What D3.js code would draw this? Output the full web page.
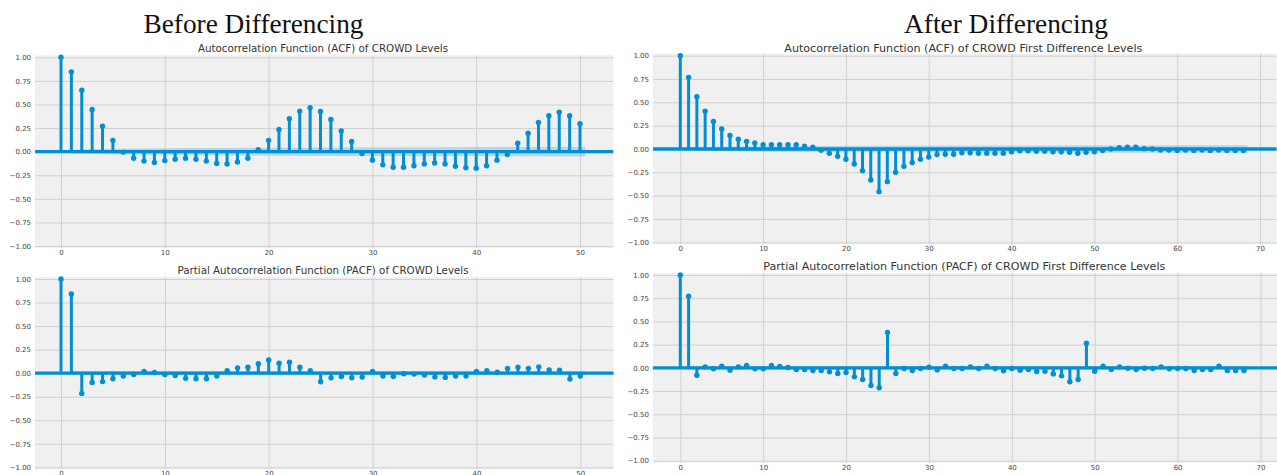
<!DOCTYPE html>
<html>
<head>
<meta charset="utf-8">
<script src="https://cdn.jsdelivr.net/npm/d3@7"></script>
<style>
  body { margin: 0; background: #fff; }
  svg { display: block; }
  text { font-family: "DejaVu Sans", sans-serif; }
</style>
</head>
<body>
<svg id="chart" width="1277" height="475"></svg>
<script>
// tick values
const yTicks = [-1, -0.75, -0.5, -0.25, 0, 0.25, 0.5, 0.75, 1];
const lagTicksLevels = [0, 10, 20, 30, 40, 50];
const lagTicksDiff = [0, 10, 20, 30, 40, 50, 60, 70];

// ACF / PACF of CROWD levels (lags 0..50)
const acfLevels = [1.0, 0.846, 0.65, 0.446, 0.27, 0.12, -0.005, -0.07, -0.10, -0.115,
  -0.095, -0.08, -0.07, -0.08, -0.10, -0.125, -0.13, -0.11, -0.07, 0.02,
  0.12, 0.235, 0.35, 0.43, 0.465, 0.425, 0.34, 0.22, 0.107, -0.02,
  -0.09, -0.14, -0.165, -0.165, -0.15, -0.13, -0.12, -0.13, -0.155, -0.17,
  -0.175, -0.15, -0.09, -0.03, 0.09, 0.196, 0.31, 0.38, 0.418, 0.38, 0.296];
const pacfLevels = [1.0, 0.84, -0.215, -0.10, -0.09, -0.06, -0.03, -0.015, 0.018, 0.007,
  -0.015, -0.025, -0.055, -0.06, -0.06, -0.03, 0.025, 0.056, 0.063, 0.10,
  0.14, 0.105, 0.116, 0.063, 0.025, -0.092, -0.05, -0.035, -0.05, -0.042,
  0.018, -0.03, -0.035, -0.007, -0.01, -0.02, -0.04, -0.045, -0.03, -0.03,
  0.018, 0.025, 0.01, 0.05, 0.063, 0.05, 0.067, 0.035, 0.032, -0.063, -0.03];

// ACF / PACF of CROWD first differences (lags 0..68)
const acfDiff = [1.0, 0.768, 0.56, 0.404, 0.296, 0.214, 0.146, 0.104, 0.082, 0.064,
  0.046, 0.046, 0.046, 0.046, 0.046, 0.029, 0.018, -0.014, -0.046, -0.079,
  -0.11, -0.16, -0.232, -0.332, -0.457, -0.35, -0.25, -0.186, -0.146, -0.11,
  -0.086, -0.06, -0.057, -0.057, -0.04, -0.04, -0.046, -0.046, -0.046, -0.046,
  -0.03, -0.02, -0.02, -0.025, -0.025, -0.03, -0.03, -0.035, -0.046, -0.036,
  -0.03, -0.015, 0.0, 0.014, 0.018, 0.018, 0.004, 0.0, -0.01, -0.012,
  -0.015, -0.012, -0.015, -0.012, -0.015, -0.012, -0.015, -0.015, -0.015];
const pacfDiff = [1.0, 0.772, -0.079, 0.011, -0.011, 0.018, -0.025, 0.011, 0.025, -0.011,
  -0.011, 0.025, 0.014, 0.004, -0.018, -0.018, -0.029, -0.029, -0.043, -0.061,
  -0.05, -0.097, -0.126, -0.19, -0.215, 0.38, -0.061, -0.007, -0.029, -0.007,
  0.007, -0.022, 0.018, -0.007, -0.007, 0.011, -0.007, 0.018, -0.007, -0.032,
  -0.007, -0.025, -0.018, -0.04, -0.036, -0.065, -0.086, -0.15, -0.126, 0.266,
  -0.036, 0.018, -0.018, 0.011, -0.004, -0.018, -0.004, -0.007, 0.011, -0.011,
  -0.007, -0.007, -0.029, -0.018, -0.018, 0.018, -0.029, -0.029, -0.029];

// confidence bands (half widths)
const bandLagsLevels = [0, 1, 5, 10, 25, 50.5];
const bandAcfLevels = [0, 0.02, 0.03, 0.035, 0.045, 0.052];
const bandPacfLevels = [0, 0.022, 0.022, 0.022, 0.022, 0.022];
const bandLagsDiff = [0, 1, 5, 10, 25, 68.5];
const bandAcfDiff = [0, 0.018, 0.025, 0.03, 0.035, 0.04];
const bandPacfDiff = [0, 0.02, 0.02, 0.02, 0.02, 0.02];

const blue = "#008fd5";
const svg = d3.select("#chart");

// headers
svg.append("text").attr("x", 143.5).attr("y", 32.5)
  .attr("textLength", 220).attr("lengthAdjust", "spacingAndGlyphs")
  .style("font-family", "'Liberation Serif', serif").style("font-size", "28px")
  .attr("fill", "#111").text("Before Differencing");
svg.append("text").attr("x", 904).attr("y", 33)
  .attr("textLength", 204).attr("lengthAdjust", "spacingAndGlyphs")
  .style("font-family", "'Liberation Serif', serif").style("font-size", "28px")
  .attr("fill", "#111").text("After Differencing");

const panels = [
  { title: "Autocorrelation Function (ACF) of CROWD Levels", titleX: 323, titleY: 52, titleLen: 250,
    values: acfLevels, maxLag: 50, xTicks: lagTicksLevels, x0: 61, x50: 580, xLo: -2.5, xHi: 53.2,
    yTop: 57.3, yBot: 246, bandLags: bandLagsLevels, band: bandAcfLevels },
  { title: "Partial Autocorrelation Function (PACF) of CROWD Levels", titleX: 323, titleY: 273.5, titleLen: 291,
    values: pacfLevels, maxLag: 50, xTicks: lagTicksLevels, x0: 61, x50: 580.3, xLo: -2.5, xHi: 53.2,
    yTop: 279, yBot: 467.3, bandLags: bandLagsLevels, band: bandPacfLevels },
  { title: "Autocorrelation Function (ACF) of CROWD First Difference Levels", titleX: 963.3, titleY: 51.5, titleLen: 358,
    values: acfDiff, maxLag: 70, xTicks: lagTicksDiff, x0: 680.3, x50: 1260, xLo: -3.3, xHi: 72,
    yTop: 55.7, yBot: 242.3, bandLags: bandLagsDiff, band: bandAcfDiff },
  { title: "Partial Autocorrelation Function (PACF) of CROWD First Difference Levels", titleX: 964.3, titleY: 270, titleLen: 402,
    values: pacfDiff, maxLag: 70, xTicks: lagTicksDiff, x0: 680.3, x50: 1260.5, xLo: -3.3, xHi: 72,
    yTop: 275, yBot: 460.7, bandLags: bandLagsDiff, band: bandPacfDiff }
];

panels.forEach(p => {
  const x = d3.scaleLinear().domain([0, p.maxLag]).range([p.x0, p.x50]);
  const y = d3.scaleLinear().domain([-1, 1]).range([p.yBot, p.yTop]);
  const left = x(p.xLo), right = Math.min(x(p.xHi), 1277);
  const top = y(1.022), bottom = y(-1.022);
  const g = svg.append("g");

  g.append("rect").attr("x", left).attr("y", top)
    .attr("width", right - left).attr("height", bottom - top).attr("fill", "#f0f0f0");

  // grid
  g.append("g").attr("transform", `translate(0,${bottom})`)
    .call(d3.axisBottom(x).tickValues(p.xTicks).tickSize(-(bottom - top)).tickFormat(""))
    .call(a => a.select(".domain").remove())
    .call(a => a.selectAll("line").attr("stroke", "#d0d0d0").attr("stroke-width", 1));
  g.append("g").attr("transform", `translate(${left},0)`)
    .call(d3.axisLeft(y).tickValues(yTicks).tickSize(-(right - left)).tickFormat(""))
    .call(a => a.select(".domain").remove())
    .call(a => a.selectAll("line").attr("stroke", "#d0d0d0").attr("stroke-width", 1));

  // tick labels
  g.append("g").attr("transform", `translate(${left},0)`)
    .call(d3.axisLeft(y).tickValues(yTicks).tickSize(0).tickPadding(4).tickFormat(d3.format(".2f")))
    .call(a => a.select(".domain").remove())
    .call(a => a.selectAll("text").attr("fill", "#444").style("font-size", "7px")
      .style("font-family", "'DejaVu Sans', sans-serif"));
  g.append("g").attr("transform", `translate(0,${bottom})`)
    .call(d3.axisBottom(x).tickValues(p.xTicks).tickSize(0).tickPadding(2).tickFormat(d3.format("d")))
    .call(a => a.select(".domain").remove())
    .call(a => a.selectAll("text").attr("fill", "#444").style("font-size", "7px")
      .style("font-family", "'DejaVu Sans', sans-serif"));

  // confidence band
  const area = d3.area()
    .x((d, i) => x(p.bandLags[i]))
    .y0(d => y(-d)).y1(d => y(d));
  g.append("path").datum(p.band).attr("d", area)
    .attr("fill", blue).attr("fill-opacity", 0.25);

  // stems
  g.selectAll(".stem").data(p.values).enter().append("line")
    .attr("x1", (d, i) => x(i)).attr("x2", (d, i) => x(i))
    .attr("y1", y(0)).attr("y2", d => y(d))
    .attr("stroke", blue).attr("stroke-width", 3);

  // zero line
  g.append("line").attr("x1", left).attr("x2", right)
    .attr("y1", y(0)).attr("y2", y(0))
    .attr("stroke", blue).attr("stroke-width", 3.4);

  // markers
  g.selectAll(".dot").data(p.values).enter().append("circle")
    .attr("cx", (d, i) => x(i)).attr("cy", d => y(d)).attr("r", 2.7)
    .attr("fill", blue);

  // title
  g.append("text").attr("x", p.titleX).attr("y", p.titleY)
    .attr("text-anchor", "middle").attr("fill", "#333")
    .attr("textLength", p.titleLen).attr("lengthAdjust", "spacingAndGlyphs")
    .style("font-size", "10px").text(p.title);
});
</script>
</body>
</html>
